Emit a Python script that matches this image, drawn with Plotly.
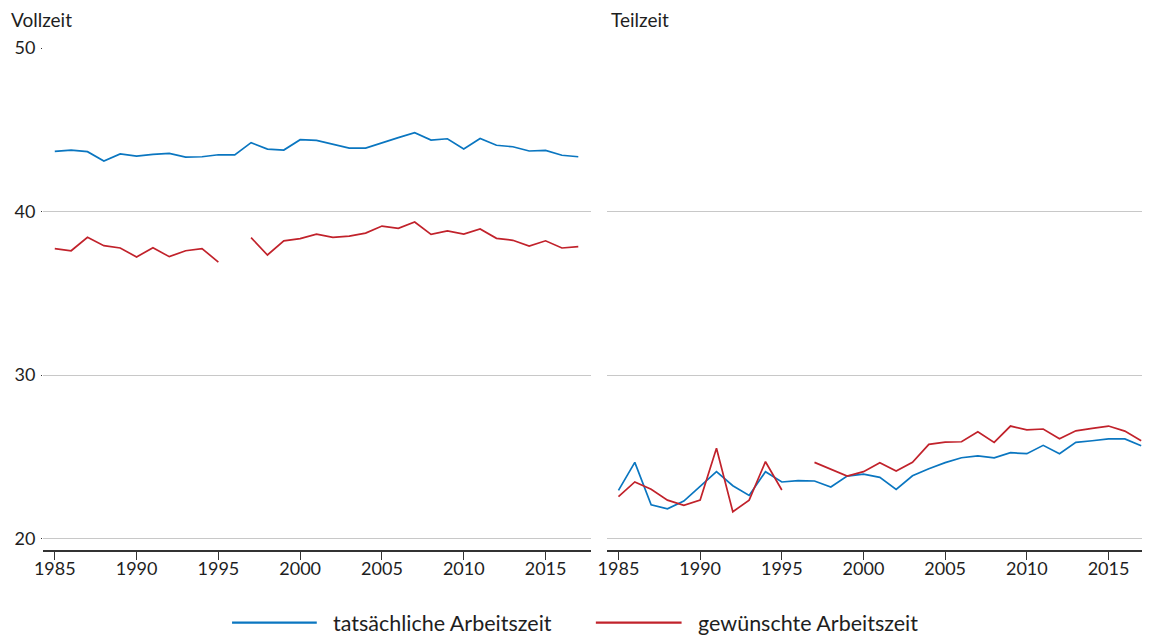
import plotly.graph_objects as go

years = [1985, 1986, 1987, 1988, 1989, 1990, 1991, 1992, 1993, 1994, 1995,
         1996, 1997, 1998, 1999, 2000, 2001, 2002, 2003, 2004, 2005, 2006,
         2007, 2008, 2009, 2010, 2011, 2012, 2013, 2014, 2015, 2016, 2017]

vollzeit_tats = [43.68, 43.76, 43.66, 43.09, 43.52, 43.39, 43.50, 43.56, 43.33, 43.35, 43.47,
                 43.46, 44.21, 43.82, 43.76, 44.39, 44.35, 44.13, 43.88, 43.88, 44.21, 44.52,
                 44.82, 44.37, 44.45, 43.82, 44.47, 44.05, 43.96, 43.70, 43.74, 43.44, 43.35]
vollzeit_gew = [37.73, 37.60, 38.42, 37.91, 37.77, 37.22, 37.79, 37.24, 37.60, 37.73, 36.91,
                None, 38.40, 37.34, 38.21, 38.34, 38.62, 38.42, 38.50, 38.68, 39.11, 38.97,
                39.36, 38.60, 38.81, 38.62, 38.93, 38.36, 38.24, 37.89, 38.21, 37.77, 37.85]
teilzeit_tats = [22.95, 24.66, 22.07, 21.82, 22.29, 23.17, 24.09, 23.23, 22.64, 24.09, 23.46,
                 23.54, 23.52, 23.15, 23.82, 23.94, 23.74, 23.01, 23.84, 24.27, 24.64, 24.94,
                 25.05, 24.94, 25.25, 25.19, 25.70, 25.19, 25.88, 25.98, 26.09, 26.09, 25.68]
teilzeit_gew = [22.56, 23.46, 23.01, 22.35, 22.03, 22.35, 25.52, 21.64, 22.35, 24.70, 22.97,
                None, 24.66, 24.23, 23.82, 24.09, 24.64, 24.13, 24.66, 25.76, 25.90, 25.92,
                26.53, 25.88, 26.88, 26.65, 26.70, 26.10, 26.59, 26.74, 26.88, 26.57, 25.98]

x_ticks = [1985, 1990, 1995, 2000, 2005, 2010, 2015]
y_ticks = [20, 30, 40, 50]
panel_titles = ["Vollzeit", "Teilzeit"]
series_names = ["tatsächliche Arbeitszeit", "gewünschte Arbeitszeit"]

BLUE = "#0a76c0"
RED = "#c1222b"
FONT = "Lato"
TXT = "#1e1e1e"

fig = go.Figure()
fig.add_trace(go.Scatter(x=years, y=vollzeit_tats, mode="lines", name=series_names[0],
                         line=dict(color=BLUE, width=1.7), xaxis="x", yaxis="y",
                         showlegend=False))
fig.add_trace(go.Scatter(x=years, y=vollzeit_gew, mode="lines", name=series_names[1],
                         line=dict(color=RED, width=1.7), xaxis="x", yaxis="y",
                         showlegend=False, connectgaps=False))
fig.add_trace(go.Scatter(x=years, y=teilzeit_tats, mode="lines", name=series_names[0],
                         line=dict(color=BLUE, width=1.7), xaxis="x2", yaxis="y2",
                         showlegend=False))
fig.add_trace(go.Scatter(x=years, y=teilzeit_gew, mode="lines", name=series_names[1],
                         line=dict(color=RED, width=1.7), xaxis="x2", yaxis="y2",
                         showlegend=False, connectgaps=False))

# the page places the figure 8px from the top-left corner
OFF = 8
W, H = 1150 - OFF, 637 - OFF
ml, mr = 43.3 - OFF, 0
mt = 48 - OFF
mb = H - (549.7 - OFF)
pw = W - ml - mr
ph = H - mt - mb

def px_x(p):
    return (p - OFF - ml) / pw

def px_y(p):
    return (H - mb - (p - OFF)) / ph

xaxis_common = dict(
    range=[1984.28, 2017.75], tickmode="array", tickvals=x_ticks,
    ticks="outside", ticklen=8, tickwidth=1, tickcolor="#333333",
    ticklabelstandoff=-6,
    showline=True, linecolor="#333333", linewidth=1.5,
    showgrid=False, zeroline=False,
    tickfont=dict(family=FONT, size=18, color=TXT),
)
yaxis_common = dict(
    range=[19.30, 50], tickmode="array", tickvals=y_ticks,
    showgrid=True, gridcolor="#c8c8c8", gridwidth=1,
    zeroline=False, showline=False,
    tickfont=dict(family=FONT, size=18, color=TXT),
)

fig.update_layout(
    width=W, height=H,
    margin=dict(l=ml, r=mr, t=mt, b=mb),
    paper_bgcolor="white", plot_bgcolor="white",
    font=dict(family=FONT, size=18, color=TXT),
    showlegend=False,
    xaxis=dict(domain=[0, px_x(590.7)], anchor="y", **xaxis_common),
    yaxis=dict(domain=[0, 1], anchor="x", ticks="outside", ticklen=1,
               tickcolor="#333333", ticklabelstandoff=2, **yaxis_common),
    xaxis2=dict(domain=[px_x(606.7), 1], anchor="y2",
                **{**xaxis_common, "range": [1984.27, 2017.54]}),
    yaxis2=dict(domain=[0, 1], anchor="x2", matches="y", showticklabels=False,
                ticks="", **yaxis_common),
)

# panel titles
fig.add_annotation(text=panel_titles[0], xref="paper", yref="paper",
                   x=px_x(9), y=px_y(20), xanchor="left", yanchor="middle",
                   showarrow=False, font=dict(family=FONT, size=19, color=TXT))
fig.add_annotation(text=panel_titles[1], xref="paper", yref="paper",
                   x=px_x(609), y=px_y(20), xanchor="left", yanchor="middle",
                   showarrow=False, font=dict(family=FONT, size=19, color=TXT))

# custom legend
legend_items = [(232.3, 317.0, 331.0, BLUE, series_names[0]),
                (596.0, 681.7, 696.0, RED, series_names[1])]
for x0, x1, xt, col, name in legend_items:
    fig.add_shape(type="line", xref="paper", yref="paper",
                  x0=px_x(x0), x1=px_x(x1), y0=px_y(622.3), y1=px_y(622.3),
                  line=dict(color=col, width=2.4))
    fig.add_annotation(text=name, xref="paper", yref="paper",
                       x=px_x(xt), y=px_y(622.3), xanchor="left", yanchor="middle",
                       showarrow=False, font=dict(family=FONT, size=21.5, color=TXT))

fig.write_html("out.html")
